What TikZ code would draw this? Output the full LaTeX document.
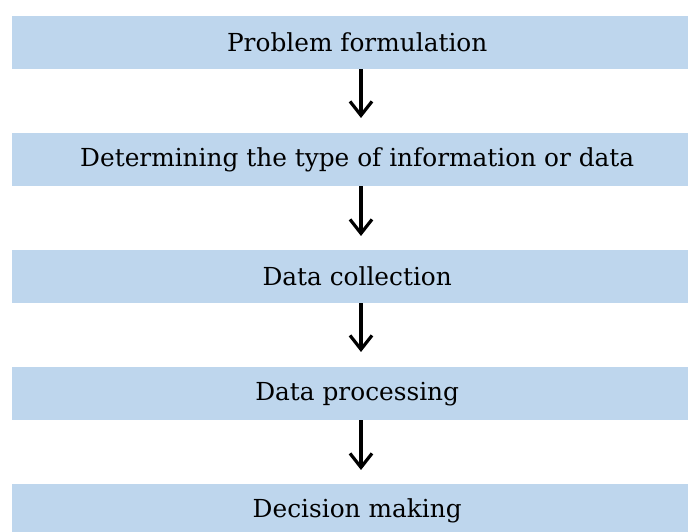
\documentclass[tikz,border=0pt]{standalone}
\usepackage{fontspec}
\setmainfont{DejaVu Serif}
\usetikzlibrary{arrows.meta}
\definecolor{boxblue}{RGB}{190,214,237}
\newcommand{\shifttxt}[1]{\hspace*{14pt}#1}
\begin{document}
\begin{tikzpicture}[x=1pt,y=1pt,
  stepbox/.style={fill=boxblue,draw=none,minimum width=676pt,minimum height=53pt,inner sep=0pt,anchor=north west,font=\fontsize{24.8}{28}\selectfont},
  flow/.style={line width=3.2pt,-{Straight Barb[length=14pt,width=22pt,line width=3.2pt]}}]
\useasboundingbox (0,0) rectangle (691,532);
\begin{scope}
\clip (0,0) rectangle (691,532);
\node[stepbox] (b1) at (12,516) {\shifttxt{Problem formulation}};
\node[stepbox] (b2) at (12,399) {\shifttxt{Determining the type of information or data}};
\node[stepbox] (b3) at (12,282) {\shifttxt{Data collection}};
\node[stepbox] (b4) at (12,165) {\shifttxt{Data processing}};
\node[stepbox] (b5) at (12,48) {\shifttxt{Decision making}};
\end{scope}
\draw[flow] (b1.south -| 361,0) -- (361,414);
\draw[flow] (b2.south -| 361,0) -- (361,296);
\draw[flow] (b3.south -| 361,0) -- (361,180);
\draw[flow] (b4.south -| 361,0) -- (361,62);
\end{tikzpicture}
\end{document}
